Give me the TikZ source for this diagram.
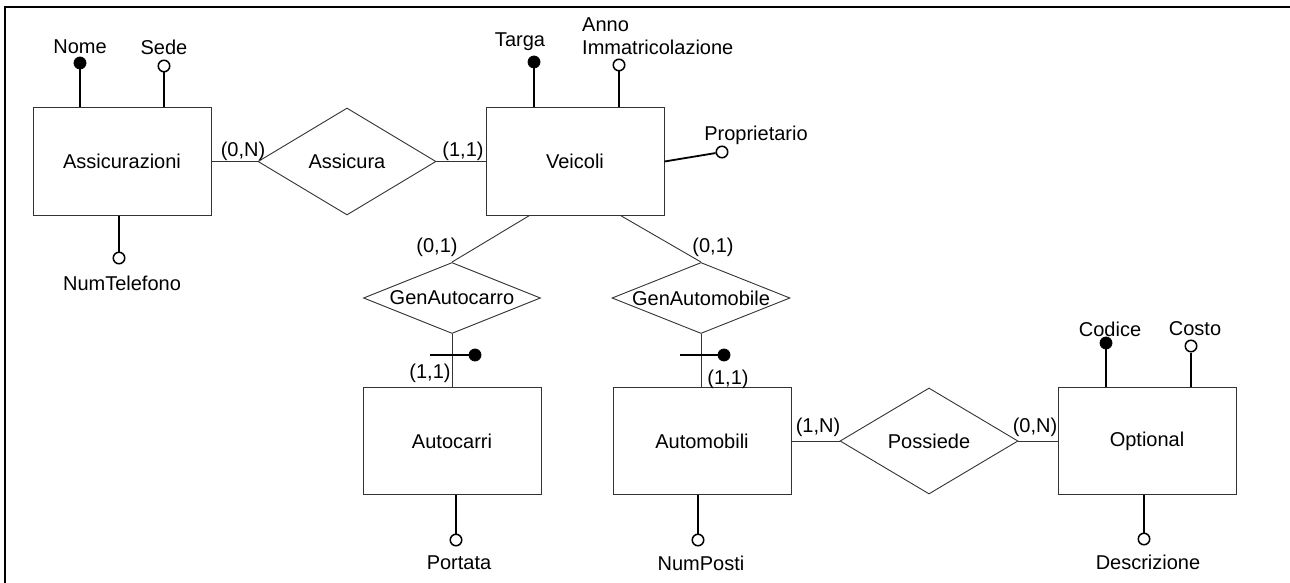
\documentclass[tikz,border=0pt]{standalone}
\usepackage{fontspec}
\setmainfont{Liberation Sans}
\usetikzlibrary{shapes.geometric}
\tikzset{
  ent/.style={draw=black!80, line width=1pt, minimum width=178pt, minimum height=107pt, inner sep=0pt},
  rel/.style={draw=black!80, line width=0.9pt, shape=diamond, inner sep=0pt},
  keyatt/.style={circle, fill=black, draw=black, line width=0.8pt, inner sep=0pt, minimum size=12pt},
  optatt/.style={circle, fill=white, draw=black, line width=1.5pt, inner sep=0pt, minimum size=11.5pt},
  aline/.style={line width=1.8pt},
  cline/.style={line width=0.9pt, draw=black!80},
  txt/.style={inner sep=0pt},
  card/.style={inner sep=0pt},
}
\begin{document}
\begin{tikzpicture}[x=1pt,y=-1pt,font=\fontsize{20}{23}\selectfont]
\useasboundingbox (0,0) rectangle (1290,583);
% frame
\draw[line width=2pt] (5,583) -- (5,7) -- (1290,7);

% entities
\node[ent] (ass) at (122,161.5) {Assicurazioni};
\node[ent] (vei) at (575,161.5) {Veicoli};
\node[ent] (car) at (452,441) {Autocarri};
\node[ent] (aut) at (702,441) {Automobili};
\node[ent] (opt) at (1147,441) {Optional};

% relationships
\node[rel, minimum width=178pt, minimum height=107pt, label=center:{Assicura}] (assi) at (347,161.5) {};
\node[rel, minimum width=177pt, minimum height=71pt, label=center:{GenAutocarro}] (genac) at (452,298) {};
\node[rel, minimum width=178pt, minimum height=71pt, label=center:{GenAutomobile}] (genam) at (701,298) {};
\node[rel, minimum width=178pt, minimum height=106pt, label=center:{Possiede}] (poss) at (929,441) {};

% connectors
\draw[cline] (ass.east) -- (assi.west);
\draw[cline] (assi.east) -- (vei.west);
\draw[cline] ([xshift=44pt]vei.south west) -- (genac.north);
\draw[cline] ([xshift=-44pt]vei.south east) -- (genam.north);
\draw[cline] (genac.south) -- (car.north);
\draw[cline] (genam.south) -- (genam.south |- aut.north);
\draw[cline] (aut.east) -- (poss.west);
\draw[cline] (poss.east) -- (opt.west);

% cardinalities
\node[card] (c1) at (243,151) {(0,N)};
\node[card] (c2) at (463,151) {(1,1)};
\node[card] (c3) at (437,247) {(0,1)};
\node[card] (c4) at (713,247) {(0,1)};
\node[card] (c5) at (430,373) {(1,1)};
\node[card] (c6) at (728,379) {(1,1)};
\node[card] (c7) at (818,427) {(1,N)};
\node[card] (c8) at (1035,427) {(0,N)};

% generalization identifiers
\coordinate (t1) at (430,355);
\node[keyatt] (k1) at (475,355) {};
\draw[aline] (t1) -- (k1);
\coordinate (t2) at (680,355);
\node[keyatt] (k2) at (724,355) {};
\draw[aline] (t2) -- (k2);

% Assicurazioni attributes
\node[keyatt] (nomeC) at (80,63) {};
\node[txt] (nome) at (80,47) {Nome};
\draw[aline] (nomeC) -- (nomeC |- ass.north);
\node[optatt] (sedeC) at (164,66) {};
\node[txt] (sede) at (164,47) {Sede};
\draw[aline] (sedeC) -- (sedeC |- ass.north);
\node[optatt] (telC) at (119,258) {};
\node[txt] (tel) at (122,283) {NumTelefono};
\draw[aline] (telC) -- (telC |- ass.south);

% Veicoli attributes
\node[keyatt] (targaC) at (534,62) {};
\node[txt] (targa) at (520,42) {Targa};
\draw[aline] (targaC) -- (targaC |- vei.north);
\node[optatt] (annoC) at (619,65) {};
\node[txt, align=left, anchor=west] (anno) at (582,36.5) {Anno\\Immatricolazione};
\draw[aline] (annoC) -- (annoC |- vei.north);
\node[optatt] (propC) at (722,152) {};
\node[txt] (prop) at (756,135) {Proprietario};
\draw[aline] (vei.east) -- (propC);

% Autocarri / Automobili attributes
\node[optatt] (portC) at (456,540) {};
\node[txt] (port) at (459,563) {Portata};
\draw[aline] (portC) -- (portC |- car.south);
\node[optatt] (postiC) at (698,540) {};
\node[txt] (posti) at (701,563) {NumPosti};
\draw[aline] (postiC) -- (postiC |- aut.south);

% Optional attributes
\node[keyatt] (codC) at (1106,343) {};
\node[txt] (cod) at (1110,329) {Codice};
\draw[aline] (codC) -- (codC |- opt.north);
\node[optatt] (costC) at (1191,346) {};
\node[txt] (cost) at (1195,329) {Costo};
\draw[aline] (costC) -- (costC |- opt.north);
\node[optatt] (descC) at (1144,539) {};
\node[txt] (desc) at (1148,562) {Descrizione};
\draw[aline] (descC) -- (descC |- opt.south);
\end{tikzpicture}
\end{document}
